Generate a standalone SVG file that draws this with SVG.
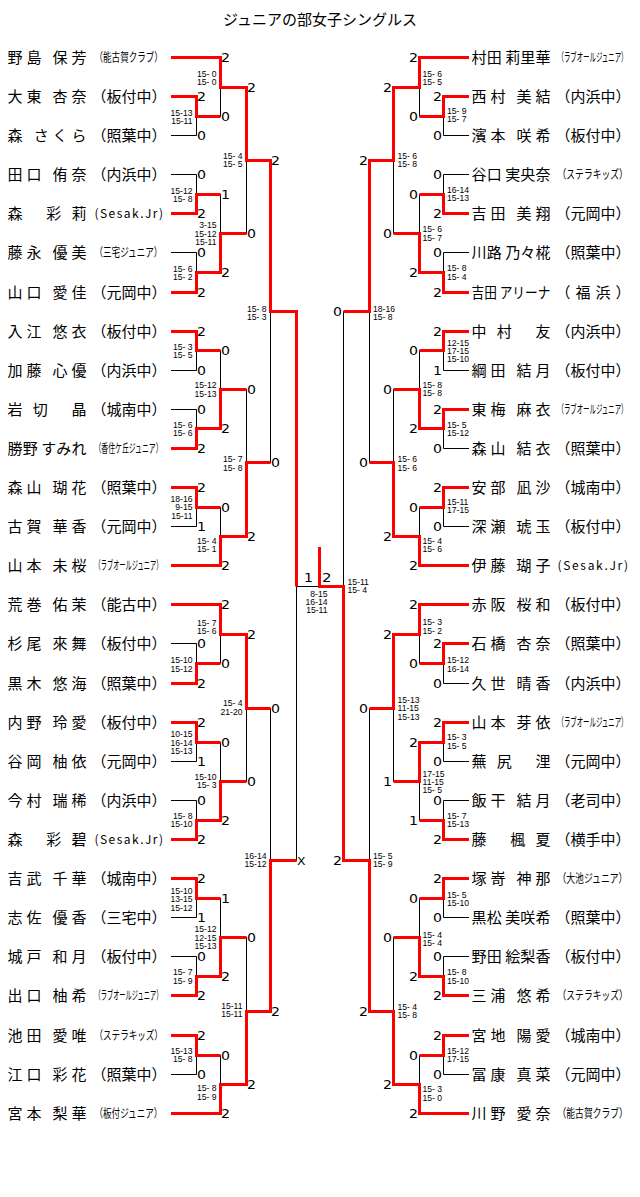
<svg xmlns="http://www.w3.org/2000/svg" width="640" height="1197" viewBox="0 0 640 1197">
<style>
.nm{font-family:"Noto Sans CJK JP","Noto Sans CJK SC",sans-serif;font-size:15px;fill:#000}
.cs{font-family:"Noto Sans CJK JP","Noto Sans CJK SC",sans-serif;font-size:12px;fill:#000}
.s{font-family:"Liberation Sans",Arial,sans-serif;font-size:8.6px;fill:#000}
.e{text-anchor:end}
.d{font-family:"DejaVu Sans",sans-serif;font-size:12px;fill:#000}
.k{stroke:#000;stroke-width:1;fill:none}
.r{stroke:#f00;stroke-width:3;fill:none;stroke-linejoin:miter}
</style>
<rect width="640" height="1197" fill="#fff"/>
<text id="title" class="nm" x="320" y="25" text-anchor="middle">ジュニアの部女子シングルス</text>
<defs>
<path id="bk" d="M171 57.5H220.5M171 96.5H196.5M171 135.5H196.5M171 174.5H196.5M171 213.5H196.5M171 252.5H196.5M171 292.5H196.5M171 331.5H196.5M171 370.5H196.5M171 409.5H196.5M171 448.5H196.5M171 487.5H196.5M171 526.5H196.5M171 565.5H220.5M171 604.5H220.5M171 643.5H196.5M171 683.5H196.5M171 722.5H196.5M171 761.5H196.5M171 800.5H196.5M171 839.5H196.5M171 878.5H196.5M171 917.5H196.5M171 956.5H196.5M171 995.5H196.5M171 1035.5H196.5M171 1074.5H196.5M171 1113.5H220.5M196.5 96.5V135.5M196.5 116.5H220.5M196.5 174.5V213.5M196.5 194.5H220.5M196.5 252.5V292.5M196.5 272.5H220.5M196.5 331.5V370.5M196.5 350.5H220.5M196.5 409.5V448.5M196.5 428.5H220.5M196.5 487.5V526.5M196.5 507.5H220.5M196.5 643.5V683.5M196.5 663.5H220.5M196.5 722.5V761.5M196.5 742.5H220.5M196.5 800.5V839.5M196.5 820.5H220.5M196.5 878.5V917.5M196.5 898.5H220.5M196.5 956.5V995.5M196.5 976.5H220.5M196.5 1035.5V1074.5M196.5 1055.5H220.5M220.5 57.5V116.5M220.5 87.5H246.5M220.5 194.5V272.5M220.5 233.5H246.5M220.5 350.5V428.5M220.5 389.5H246.5M220.5 507.5V565.5M220.5 536.5H246.5M220.5 604.5V663.5M220.5 634.5H246.5M220.5 742.5V820.5M220.5 781.5H246.5M220.5 898.5V976.5M220.5 937.5H246.5M220.5 1055.5V1113.5M220.5 1084.5H246.5M246.5 87.5V233.5M246.5 160.5H270.5M246.5 389.5V536.5M246.5 462.5H270.5M246.5 634.5V781.5M246.5 708.5H270.5M246.5 937.5V1084.5M246.5 1011.5H270.5M270.5 160.5V462.5M270.5 311.5H296.5M270.5 708.5V1011.5M270.5 860.5H296.5M296.5 311.5V860.5M296.5 586.5H319.5"/>
</defs>
<g id="connectors">
<use href="#bk" class="k"/>
<g transform="matrix(-1 0 0 1 640 0)"><use href="#bk" class="k"/></g>
<g id="winL" class="r">
<path d="M171 57.5H220.5V87.5H246.5V160.5H270.5V311.5H296.5V586.5"/>
<path d="M171 96.5H196.5V116.5H220.5"/>
<path d="M171 213.5H196.5V194.5H220.5"/>
<path d="M171 292.5H196.5V272.5H220.5V233.5H246.5"/>
<path d="M171 331.5H196.5V350.5H220.5"/>
<path d="M171 448.5H196.5V428.5H220.5V389.5H246.5"/>
<path d="M171 487.5H196.5V507.5H220.5"/>
<path d="M171 565.5H220.5V536.5H246.5V462.5H270.5"/>
<path d="M171 604.5H220.5V634.5H246.5V708.5H270.5"/>
<path d="M171 683.5H196.5V663.5H220.5"/>
<path d="M171 722.5H196.5V742.5H220.5"/>
<path d="M171 839.5H196.5V820.5H220.5V781.5H246.5"/>
<path d="M171 878.5H196.5V898.5H220.5"/>
<path d="M171 995.5H196.5V976.5H220.5V937.5H246.5"/>
<path d="M171 1035.5H196.5V1055.5H220.5"/>
<path d="M171 1113.5H220.5V1084.5H246.5V1011.5H270.5V860.5H296.5"/>
</g>
<g id="winR" class="r" transform="matrix(-1 0 0 1 640 0)">
<path d="M171 57.5H220.5V87.5H246.5V160.5H270.5V311.5H296.5"/>
<path d="M171 96.5H196.5V116.5H220.5"/>
<path d="M171 213.5H196.5V194.5H220.5"/>
<path d="M171 292.5H196.5V272.5H220.5V233.5H246.5"/>
<path d="M171 331.5H196.5V350.5H220.5"/>
<path d="M171 409.5H196.5V428.5H220.5V389.5H246.5"/>
<path d="M171 487.5H196.5V507.5H220.5"/>
<path d="M171 565.5H220.5V536.5H246.5V462.5H270.5"/>
<path d="M171 604.5H220.5V634.5H246.5V708.5H270.5"/>
<path d="M171 643.5H196.5V663.5H220.5"/>
<path d="M171 722.5H196.5V742.5H220.5V781.5H246.5"/>
<path d="M171 839.5H196.5V820.5H220.5"/>
<path d="M171 878.5H196.5V898.5H220.5"/>
<path d="M171 995.5H196.5V976.5H220.5V937.5H246.5"/>
<path d="M171 1035.5H196.5V1055.5H220.5"/>
<path d="M171 1113.5H220.5V1084.5H246.5V1011.5H270.5V860.5H296.5V586.5H320.5"/>
</g>
<path id="champion" class="r" d="M319.5 547V588"/>
</g>
<g id="results">
<g id="digitsL">
<text class="d" x="197" y="101" textLength="9" lengthAdjust="spacingAndGlyphs">2</text>
<text class="d" x="197" y="140" textLength="9" lengthAdjust="spacingAndGlyphs">0</text>
<text class="d" x="197" y="179" textLength="9" lengthAdjust="spacingAndGlyphs">0</text>
<text class="d" x="197" y="218" textLength="9" lengthAdjust="spacingAndGlyphs">2</text>
<text class="d" x="197" y="257" textLength="9" lengthAdjust="spacingAndGlyphs">0</text>
<text class="d" x="197" y="297" textLength="9" lengthAdjust="spacingAndGlyphs">2</text>
<text class="d" x="197" y="336" textLength="9" lengthAdjust="spacingAndGlyphs">2</text>
<text class="d" x="197" y="375" textLength="9" lengthAdjust="spacingAndGlyphs">0</text>
<text class="d" x="197" y="414" textLength="9" lengthAdjust="spacingAndGlyphs">0</text>
<text class="d" x="197" y="453" textLength="9" lengthAdjust="spacingAndGlyphs">2</text>
<text class="d" x="197" y="492" textLength="9" lengthAdjust="spacingAndGlyphs">2</text>
<text class="d" x="197" y="531" textLength="9" lengthAdjust="spacingAndGlyphs">1</text>
<text class="d" x="197" y="648" textLength="9" lengthAdjust="spacingAndGlyphs">0</text>
<text class="d" x="197" y="688" textLength="9" lengthAdjust="spacingAndGlyphs">2</text>
<text class="d" x="197" y="727" textLength="9" lengthAdjust="spacingAndGlyphs">2</text>
<text class="d" x="197" y="766" textLength="9" lengthAdjust="spacingAndGlyphs">1</text>
<text class="d" x="197" y="805" textLength="9" lengthAdjust="spacingAndGlyphs">0</text>
<text class="d" x="197" y="844" textLength="9" lengthAdjust="spacingAndGlyphs">2</text>
<text class="d" x="197" y="883" textLength="9" lengthAdjust="spacingAndGlyphs">2</text>
<text class="d" x="197" y="922" textLength="9" lengthAdjust="spacingAndGlyphs">1</text>
<text class="d" x="197" y="961" textLength="9" lengthAdjust="spacingAndGlyphs">0</text>
<text class="d" x="197" y="1000" textLength="9" lengthAdjust="spacingAndGlyphs">2</text>
<text class="d" x="197" y="1040" textLength="9" lengthAdjust="spacingAndGlyphs">2</text>
<text class="d" x="197" y="1079" textLength="9" lengthAdjust="spacingAndGlyphs">0</text>
<text class="d" x="221" y="62" textLength="9" lengthAdjust="spacingAndGlyphs">2</text>
<text class="d" x="221" y="121" textLength="9" lengthAdjust="spacingAndGlyphs">0</text>
<text class="d" x="221" y="199" textLength="9" lengthAdjust="spacingAndGlyphs">1</text>
<text class="d" x="221" y="277" textLength="9" lengthAdjust="spacingAndGlyphs">2</text>
<text class="d" x="221" y="355" textLength="9" lengthAdjust="spacingAndGlyphs">0</text>
<text class="d" x="221" y="433" textLength="9" lengthAdjust="spacingAndGlyphs">2</text>
<text class="d" x="221" y="512" textLength="9" lengthAdjust="spacingAndGlyphs">0</text>
<text class="d" x="221" y="570" textLength="9" lengthAdjust="spacingAndGlyphs">2</text>
<text class="d" x="221" y="609" textLength="9" lengthAdjust="spacingAndGlyphs">2</text>
<text class="d" x="221" y="668" textLength="9" lengthAdjust="spacingAndGlyphs">0</text>
<text class="d" x="221" y="747" textLength="9" lengthAdjust="spacingAndGlyphs">0</text>
<text class="d" x="221" y="825" textLength="9" lengthAdjust="spacingAndGlyphs">2</text>
<text class="d" x="221" y="903" textLength="9" lengthAdjust="spacingAndGlyphs">1</text>
<text class="d" x="221" y="981" textLength="9" lengthAdjust="spacingAndGlyphs">2</text>
<text class="d" x="221" y="1060" textLength="9" lengthAdjust="spacingAndGlyphs">0</text>
<text class="d" x="221" y="1118" textLength="9" lengthAdjust="spacingAndGlyphs">2</text>
<text class="d" x="247" y="92" textLength="9" lengthAdjust="spacingAndGlyphs">2</text>
<text class="d" x="247" y="238" textLength="9" lengthAdjust="spacingAndGlyphs">0</text>
<text class="d" x="247" y="394" textLength="9" lengthAdjust="spacingAndGlyphs">0</text>
<text class="d" x="247" y="541" textLength="9" lengthAdjust="spacingAndGlyphs">2</text>
<text class="d" x="247" y="639" textLength="9" lengthAdjust="spacingAndGlyphs">2</text>
<text class="d" x="247" y="786" textLength="9" lengthAdjust="spacingAndGlyphs">0</text>
<text class="d" x="247" y="942" textLength="9" lengthAdjust="spacingAndGlyphs">0</text>
<text class="d" x="247" y="1089" textLength="9" lengthAdjust="spacingAndGlyphs">2</text>
<text class="d" x="271" y="165" textLength="9" lengthAdjust="spacingAndGlyphs">2</text>
<text class="d" x="271" y="467" textLength="9" lengthAdjust="spacingAndGlyphs">0</text>
<text class="d" x="271" y="713" textLength="9" lengthAdjust="spacingAndGlyphs">0</text>
<text class="d" x="271" y="1016" textLength="9" lengthAdjust="spacingAndGlyphs">2</text>
<text class="d" x="297" y="864.5" style="font-size:11px" textLength="8.5" lengthAdjust="spacingAndGlyphs">X</text>
</g>
<g id="digitsR">
<text class="d" x="433" y="101" textLength="9" lengthAdjust="spacingAndGlyphs">2</text>
<text class="d" x="433" y="140" textLength="9" lengthAdjust="spacingAndGlyphs">0</text>
<text class="d" x="433" y="179" textLength="9" lengthAdjust="spacingAndGlyphs">0</text>
<text class="d" x="433" y="218" textLength="9" lengthAdjust="spacingAndGlyphs">2</text>
<text class="d" x="433" y="257" textLength="9" lengthAdjust="spacingAndGlyphs">0</text>
<text class="d" x="433" y="297" textLength="9" lengthAdjust="spacingAndGlyphs">2</text>
<text class="d" x="433" y="336" textLength="9" lengthAdjust="spacingAndGlyphs">2</text>
<text class="d" x="433" y="375" textLength="9" lengthAdjust="spacingAndGlyphs">1</text>
<text class="d" x="433" y="414" textLength="9" lengthAdjust="spacingAndGlyphs">2</text>
<text class="d" x="433" y="453" textLength="9" lengthAdjust="spacingAndGlyphs">0</text>
<text class="d" x="433" y="492" textLength="9" lengthAdjust="spacingAndGlyphs">2</text>
<text class="d" x="433" y="531" textLength="9" lengthAdjust="spacingAndGlyphs">0</text>
<text class="d" x="433" y="648" textLength="9" lengthAdjust="spacingAndGlyphs">2</text>
<text class="d" x="433" y="688" textLength="9" lengthAdjust="spacingAndGlyphs">0</text>
<text class="d" x="433" y="727" textLength="9" lengthAdjust="spacingAndGlyphs">2</text>
<text class="d" x="433" y="766" textLength="9" lengthAdjust="spacingAndGlyphs">0</text>
<text class="d" x="433" y="805" textLength="9" lengthAdjust="spacingAndGlyphs">0</text>
<text class="d" x="433" y="844" textLength="9" lengthAdjust="spacingAndGlyphs">2</text>
<text class="d" x="433" y="883" textLength="9" lengthAdjust="spacingAndGlyphs">2</text>
<text class="d" x="433" y="922" textLength="9" lengthAdjust="spacingAndGlyphs">0</text>
<text class="d" x="433" y="961" textLength="9" lengthAdjust="spacingAndGlyphs">0</text>
<text class="d" x="433" y="1000" textLength="9" lengthAdjust="spacingAndGlyphs">2</text>
<text class="d" x="433" y="1040" textLength="9" lengthAdjust="spacingAndGlyphs">2</text>
<text class="d" x="433" y="1079" textLength="9" lengthAdjust="spacingAndGlyphs">0</text>
<text class="d" x="409" y="62" textLength="9" lengthAdjust="spacingAndGlyphs">2</text>
<text class="d" x="409" y="121" textLength="9" lengthAdjust="spacingAndGlyphs">0</text>
<text class="d" x="409" y="199" textLength="9" lengthAdjust="spacingAndGlyphs">0</text>
<text class="d" x="409" y="277" textLength="9" lengthAdjust="spacingAndGlyphs">2</text>
<text class="d" x="409" y="355" textLength="9" lengthAdjust="spacingAndGlyphs">0</text>
<text class="d" x="409" y="433" textLength="9" lengthAdjust="spacingAndGlyphs">2</text>
<text class="d" x="409" y="512" textLength="9" lengthAdjust="spacingAndGlyphs">0</text>
<text class="d" x="409" y="570" textLength="9" lengthAdjust="spacingAndGlyphs">2</text>
<text class="d" x="409" y="609" textLength="9" lengthAdjust="spacingAndGlyphs">2</text>
<text class="d" x="409" y="668" textLength="9" lengthAdjust="spacingAndGlyphs">0</text>
<text class="d" x="409" y="747" textLength="9" lengthAdjust="spacingAndGlyphs">2</text>
<text class="d" x="409" y="825" textLength="9" lengthAdjust="spacingAndGlyphs">1</text>
<text class="d" x="409" y="903" textLength="9" lengthAdjust="spacingAndGlyphs">0</text>
<text class="d" x="409" y="981" textLength="9" lengthAdjust="spacingAndGlyphs">2</text>
<text class="d" x="409" y="1060" textLength="9" lengthAdjust="spacingAndGlyphs">0</text>
<text class="d" x="409" y="1118" textLength="9" lengthAdjust="spacingAndGlyphs">2</text>
<text class="d" x="383" y="92" textLength="9" lengthAdjust="spacingAndGlyphs">2</text>
<text class="d" x="383" y="238" textLength="9" lengthAdjust="spacingAndGlyphs">0</text>
<text class="d" x="383" y="394" textLength="9" lengthAdjust="spacingAndGlyphs">0</text>
<text class="d" x="383" y="541" textLength="9" lengthAdjust="spacingAndGlyphs">2</text>
<text class="d" x="383" y="639" textLength="9" lengthAdjust="spacingAndGlyphs">2</text>
<text class="d" x="383" y="786" textLength="9" lengthAdjust="spacingAndGlyphs">1</text>
<text class="d" x="383" y="942" textLength="9" lengthAdjust="spacingAndGlyphs">0</text>
<text class="d" x="383" y="1089" textLength="9" lengthAdjust="spacingAndGlyphs">2</text>
<text class="d" x="359" y="165" textLength="9" lengthAdjust="spacingAndGlyphs">2</text>
<text class="d" x="359" y="467" textLength="9" lengthAdjust="spacingAndGlyphs">0</text>
<text class="d" x="359" y="713" textLength="9" lengthAdjust="spacingAndGlyphs">0</text>
<text class="d" x="359" y="1016" textLength="9" lengthAdjust="spacingAndGlyphs">2</text>
<text class="d" x="333" y="316" textLength="9" lengthAdjust="spacingAndGlyphs">0</text>
<text class="d" x="333" y="865" textLength="9" lengthAdjust="spacingAndGlyphs">2</text>
<text class="d" x="304" y="582" style="font-size:13px" textLength="9" lengthAdjust="spacingAndGlyphs">1</text>
<text class="d" x="322" y="582" style="font-size:13px" textLength="9.5" lengthAdjust="spacingAndGlyphs">2</text>
</g>
<g id="gameScoresL" class="s e">
<text><tspan x="192.5" y="115.5">15-13</tspan><tspan x="192.5" y="123.5">15-11</tspan></text>
<text><tspan x="192.5" y="193.5">15-12</tspan><tspan x="192.5" y="201.5">15- 8</tspan></text>
<text><tspan x="192.5" y="271.5">15- 6</tspan><tspan x="192.5" y="279.5">15- 2</tspan></text>
<text><tspan x="216.5" y="77">15- 0</tspan><tspan x="216.5" y="85">15- 0</tspan></text>
<text><tspan x="216.5" y="228">3-15</tspan><tspan x="216.5" y="236.5">15-12</tspan><tspan x="216.5" y="245">15-11</tspan></text>
<text><tspan x="242.5" y="158.5">15- 4</tspan><tspan x="242.5" y="167">15- 5</tspan></text>
<text><tspan x="266.5" y="311.5">15- 8</tspan><tspan x="266.5" y="319.5">15- 3</tspan></text>
<text><tspan x="192.5" y="349.5">15- 3</tspan><tspan x="192.5" y="357.5">15- 5</tspan></text>
<text><tspan x="192.5" y="427.5">15- 6</tspan><tspan x="192.5" y="436">15- 6</tspan></text>
<text><tspan x="192.5" y="501.5">18-16</tspan><tspan x="192.5" y="510">9-15</tspan><tspan x="192.5" y="518.5">15-11</tspan></text>
<text><tspan x="216.5" y="388">15-12</tspan><tspan x="216.5" y="396.5">15-13</tspan></text>
<text><tspan x="216.5" y="543.5">15- 4</tspan><tspan x="216.5" y="552">15- 1</tspan></text>
<text><tspan x="242.5" y="462">15- 7</tspan><tspan x="242.5" y="470.5">15- 8</tspan></text>
<text><tspan x="192.5" y="663">15-10</tspan><tspan x="192.5" y="671.5">15-12</tspan></text>
<text><tspan x="192.5" y="737">10-15</tspan><tspan x="192.5" y="745.5">16-14</tspan><tspan x="192.5" y="753.5">15-13</tspan></text>
<text><tspan x="192.5" y="818.5">15- 8</tspan><tspan x="192.5" y="827">15-10</tspan></text>
<text><tspan x="216.5" y="625.5">15- 7</tspan><tspan x="216.5" y="633.5">15- 6</tspan></text>
<text><tspan x="216.5" y="779.5">15-10</tspan><tspan x="216.5" y="788">15- 3</tspan></text>
<text><tspan x="242.5" y="706">15- 4</tspan><tspan x="242.5" y="714.5">21-20</tspan></text>
<text><tspan x="192.5" y="893.5">15-10</tspan><tspan x="192.5" y="902">13-15</tspan><tspan x="192.5" y="910.5">15-12</tspan></text>
<text><tspan x="192.5" y="975">15- 7</tspan><tspan x="192.5" y="983.5">15- 9</tspan></text>
<text><tspan x="192.5" y="1053.5">15-13</tspan><tspan x="192.5" y="1062">15- 8</tspan></text>
<text><tspan x="216.5" y="932">15-12</tspan><tspan x="216.5" y="940.5">12-15</tspan><tspan x="216.5" y="948.5">15-13</tspan></text>
<text><tspan x="216.5" y="1091">15- 8</tspan><tspan x="216.5" y="1099.5">15- 9</tspan></text>
<text><tspan x="242.5" y="1008.5">15-11</tspan><tspan x="242.5" y="1017">15-11</tspan></text>
<text><tspan x="266.5" y="858.5">16-14</tspan><tspan x="266.5" y="866.5">15-12</tspan></text>
<text><tspan x="327.5" y="596.5">8-15</tspan><tspan x="327.5" y="604.5">16-14</tspan><tspan x="327.5" y="612.5">15-11</tspan></text>
</g>
<g id="gameScoresR" class="s">
<text><tspan x="447" y="113.5">15- 9</tspan><tspan x="447" y="122">15- 7</tspan></text>
<text><tspan x="447" y="192.5">16-14</tspan><tspan x="447" y="201">15-13</tspan></text>
<text><tspan x="447" y="271">15- 8</tspan><tspan x="447" y="279.5">15- 4</tspan></text>
<text><tspan x="422.5" y="76.5">15- 6</tspan><tspan x="422.5" y="84.5">15- 5</tspan></text>
<text><tspan x="422.5" y="232">15- 6</tspan><tspan x="422.5" y="240.5">15- 7</tspan></text>
<text><tspan x="397.5" y="158.5">15- 6</tspan><tspan x="397.5" y="167">15- 8</tspan></text>
<text><tspan x="373" y="311.5">18-16</tspan><tspan x="373" y="319.5">15- 8</tspan></text>
<text><tspan x="447" y="345.5">12-15</tspan><tspan x="447" y="353.5">17-15</tspan><tspan x="447" y="362">15-10</tspan></text>
<text><tspan x="447" y="428">15- 5</tspan><tspan x="447" y="436">15-12</tspan></text>
<text><tspan x="447" y="504.5">15-11</tspan><tspan x="447" y="513">17-15</tspan></text>
<text><tspan x="422.5" y="388">15- 8</tspan><tspan x="422.5" y="396">15- 8</tspan></text>
<text><tspan x="422.5" y="543.5">15- 4</tspan><tspan x="422.5" y="552">15- 6</tspan></text>
<text><tspan x="397.5" y="462">15- 6</tspan><tspan x="397.5" y="470.5">15- 6</tspan></text>
<text><tspan x="347.5" y="584.5">15-11</tspan><tspan x="347.5" y="593">15- 4</tspan></text>
<text><tspan x="447" y="663">15-12</tspan><tspan x="447" y="671.5">16-14</tspan></text>
<text><tspan x="447" y="740">15- 3</tspan><tspan x="447" y="748.5">15- 5</tspan></text>
<text><tspan x="447" y="818.5">15- 7</tspan><tspan x="447" y="827">15-13</tspan></text>
<text><tspan x="422.5" y="625">15- 3</tspan><tspan x="422.5" y="633.5">15- 2</tspan></text>
<text><tspan x="422.5" y="776.5">17-15</tspan><tspan x="422.5" y="784.5">11-15</tspan><tspan x="422.5" y="792.5">15- 5</tspan></text>
<text><tspan x="397.5" y="702.5">15-13</tspan><tspan x="397.5" y="711">11-15</tspan><tspan x="397.5" y="719.5">15-13</tspan></text>
<text><tspan x="373" y="858.5">15- 5</tspan><tspan x="373" y="866.5">15- 9</tspan></text>
<text><tspan x="447" y="897.5">15- 5</tspan><tspan x="447" y="905.5">15-10</tspan></text>
<text><tspan x="447" y="975">15- 8</tspan><tspan x="447" y="983.5">15-10</tspan></text>
<text><tspan x="447" y="1053.5">15-12</tspan><tspan x="447" y="1062">17-15</tspan></text>
<text><tspan x="422.5" y="937.5">15- 4</tspan><tspan x="422.5" y="945.5">15- 4</tspan></text>
<text><tspan x="422.5" y="1092">15- 3</tspan><tspan x="422.5" y="1100.5">15- 0</tspan></text>
<text><tspan x="397.5" y="1009.5">15- 4</tspan><tspan x="397.5" y="1017.5">15- 8</tspan></text>
</g>
</g>
<g id="playersLeft">
<g id="pL01"><text class="nm" x="7.5" y="63" textLength="79" lengthAdjust="spacing">野島 保芳</text><text class="cs" x="94.5" y="62" transform="matrix(0.7135 0 0 1 27.07 0)">（能古賀クラブ）</text></g>
<g id="pL02"><text class="nm" x="7.5" y="102" textLength="79" lengthAdjust="spacing">大東 杏奈</text><text class="nm" x="91.5" y="102">（板付中）</text></g>
<g id="pL03"><text class="nm" x="7.5" y="141" textLength="79" lengthAdjust="spacing">森 さくら</text><text class="nm" x="91.5" y="141">（照葉中）</text></g>
<g id="pL04"><text class="nm" x="7.5" y="180" textLength="79" lengthAdjust="spacing">田口 侑奈</text><text class="nm" x="91.5" y="180">（内浜中）</text></g>
<g id="pL05"><text class="nm" x="7.5" y="219" textLength="79" lengthAdjust="spacing">森 彩莉</text><text class="cs" x="94.5" y="218" textLength="68.5" lengthAdjust="spacing">(Sesak.Jr)</text></g>
<g id="pL06"><text class="nm" x="7.5" y="258" textLength="79" lengthAdjust="spacing">藤永 優美</text><text class="cs" x="94.5" y="257" transform="matrix(0.7135 0 0 1 27.07 0)">（三宅ジュニア）</text></g>
<g id="pL07"><text class="nm" x="7.5" y="298" textLength="79" lengthAdjust="spacing">山口 愛佳</text><text class="nm" x="91.5" y="298">（元岡中）</text></g>
<g id="pL08"><text class="nm" x="7.5" y="337" textLength="79" lengthAdjust="spacing">入江 悠衣</text><text class="nm" x="91.5" y="337">（板付中）</text></g>
<g id="pL09"><text class="nm" x="7.5" y="376" textLength="79" lengthAdjust="spacing">加藤 心優</text><text class="nm" x="91.5" y="376">（内浜中）</text></g>
<g id="pL10"><text class="nm" x="7.5" y="415" textLength="79" lengthAdjust="spacing">岩切 晶</text><text class="nm" x="91.5" y="415">（城南中）</text></g>
<g id="pL11"><text class="nm" x="7.5" y="454" textLength="79" lengthAdjust="spacing">勝野 すみれ</text><text class="cs" x="94.5" y="453" transform="matrix(0.571 0 0 1 40.54 0)">（香住ケ丘ジュニア）</text></g>
<g id="pL12"><text class="nm" x="7.5" y="493" textLength="79" lengthAdjust="spacing">森山 瑚花</text><text class="nm" x="91.5" y="493">（照葉中）</text></g>
<g id="pL13"><text class="nm" x="7.5" y="532" textLength="79" lengthAdjust="spacing">古賀 華香</text><text class="nm" x="91.5" y="532">（元岡中）</text></g>
<g id="pL14"><text class="nm" x="7.5" y="571" textLength="79" lengthAdjust="spacing">山本 未桜</text><text class="cs" x="94.5" y="570" transform="matrix(0.519 0 0 1 45.45 0)">（ラブオールジュニア）</text></g>
<g id="pL15"><text class="nm" x="7.5" y="610" textLength="79" lengthAdjust="spacing">荒巻 佑茉</text><text class="nm" x="91.5" y="610">（能古中）</text></g>
<g id="pL16"><text class="nm" x="7.5" y="649" textLength="79" lengthAdjust="spacing">杉尾 來舞</text><text class="nm" x="91.5" y="649">（板付中）</text></g>
<g id="pL17"><text class="nm" x="7.5" y="689" textLength="79" lengthAdjust="spacing">黒木 悠海</text><text class="nm" x="91.5" y="689">（照葉中）</text></g>
<g id="pL18"><text class="nm" x="7.5" y="728" textLength="79" lengthAdjust="spacing">内野 玲愛</text><text class="nm" x="91.5" y="728">（板付中）</text></g>
<g id="pL19"><text class="nm" x="7.5" y="767" textLength="79" lengthAdjust="spacing">谷岡 柚依</text><text class="nm" x="91.5" y="767">（元岡中）</text></g>
<g id="pL20"><text class="nm" x="7.5" y="806" textLength="79" lengthAdjust="spacing">今村 瑞稀</text><text class="nm" x="91.5" y="806">（内浜中）</text></g>
<g id="pL21"><text class="nm" x="7.5" y="845" textLength="79" lengthAdjust="spacing">森 彩碧</text><text class="cs" x="94.5" y="844" textLength="68.5" lengthAdjust="spacing">(Sesak.Jr)</text></g>
<g id="pL22"><text class="nm" x="7.5" y="884" textLength="79" lengthAdjust="spacing">吉武 千華</text><text class="nm" x="91.5" y="884">（城南中）</text></g>
<g id="pL23"><text class="nm" x="7.5" y="923" textLength="79" lengthAdjust="spacing">志佐 優香</text><text class="nm" x="91.5" y="923">（三宅中）</text></g>
<g id="pL24"><text class="nm" x="7.5" y="962" textLength="79" lengthAdjust="spacing">城戸 和月</text><text class="nm" x="91.5" y="962">（板付中）</text></g>
<g id="pL25"><text class="nm" x="7.5" y="1001" textLength="79" lengthAdjust="spacing">出口 柚希</text><text class="cs" x="94.5" y="1000" transform="matrix(0.519 0 0 1 45.45 0)">（ラブオールジュニア）</text></g>
<g id="pL26"><text class="nm" x="7.5" y="1041" textLength="79" lengthAdjust="spacing">池田 愛唯</text><text class="cs" x="94.5" y="1040" transform="matrix(0.7135 0 0 1 27.07 0)">（ステラキッズ）</text></g>
<g id="pL27"><text class="nm" x="7.5" y="1080" textLength="79" lengthAdjust="spacing">江口 彩花</text><text class="nm" x="91.5" y="1080">（照葉中）</text></g>
<g id="pL28"><text class="nm" x="7.5" y="1119" textLength="79" lengthAdjust="spacing">宮本 梨華</text><text class="cs" x="94.5" y="1118" transform="matrix(0.7135 0 0 1 27.07 0)">（板付ジュニア）</text></g>
</g>
<g id="playersRight">
<g id="pR01"><text class="nm" x="471.5" y="63" textLength="79" lengthAdjust="spacing">村田 莉里華</text><text class="cs" x="557.5" y="62" transform="matrix(0.534 0 0 1 259.8 0)">（ラブオールジュニア）</text></g>
<g id="pR02"><text class="nm" x="471.5" y="102" textLength="79" lengthAdjust="spacing">西村 美結</text><text class="nm" x="555.5" y="102">（内浜中）</text></g>
<g id="pR03"><text class="nm" x="471.5" y="141" textLength="79" lengthAdjust="spacing">濱本 咲希</text><text class="nm" x="555.5" y="141">（板付中）</text></g>
<g id="pR04"><text class="nm" x="471.5" y="180" textLength="79" lengthAdjust="spacing">谷口 実央奈</text><text class="cs" x="557.5" y="179" transform="matrix(0.734 0 0 1 148.3 0)">（ステラキッズ）</text></g>
<g id="pR05"><text class="nm" x="471.5" y="219" textLength="79" lengthAdjust="spacing">吉田 美翔</text><text class="nm" x="555.5" y="219">（元岡中）</text></g>
<g id="pR06"><text class="nm" x="471.5" y="258" textLength="79" lengthAdjust="spacing">川路 乃々椛</text><text class="nm" x="555.5" y="258">（照葉中）</text></g>
<g id="pR07"><text class="nm" x="471.5" y="298" transform="matrix(0.846 0 0 1 72.6 0)">吉田 アリーナ</text><text class="nm" x="555.5" y="298" textLength="75" lengthAdjust="spacing">（ 福 浜 ）</text></g>
<g id="pR08"><text class="nm" x="471.5" y="337" textLength="79" lengthAdjust="spacing">中村 友</text><text class="nm" x="555.5" y="337">（内浜中）</text></g>
<g id="pR09"><text class="nm" x="471.5" y="376" textLength="79" lengthAdjust="spacing">綱田 結月</text><text class="nm" x="555.5" y="376">（板付中）</text></g>
<g id="pR10"><text class="nm" x="471.5" y="415" textLength="79" lengthAdjust="spacing">東梅 麻衣</text><text class="cs" x="557.5" y="414" transform="matrix(0.534 0 0 1 259.8 0)">（ラブオールジュニア）</text></g>
<g id="pR11"><text class="nm" x="471.5" y="454" textLength="79" lengthAdjust="spacing">森山 結衣</text><text class="nm" x="555.5" y="454">（照葉中）</text></g>
<g id="pR12"><text class="nm" x="471.5" y="493" textLength="79" lengthAdjust="spacing">安部 凪沙</text><text class="nm" x="555.5" y="493">（城南中）</text></g>
<g id="pR13"><text class="nm" x="471.5" y="532" textLength="79" lengthAdjust="spacing">深瀬 琥玉</text><text class="nm" x="555.5" y="532">（板付中）</text></g>
<g id="pR14"><text class="nm" x="471.5" y="571" textLength="79" lengthAdjust="spacing">伊藤 瑚子</text><text class="cs" x="557.5" y="570" textLength="70.5" lengthAdjust="spacing">(Sesak.Jr)</text></g>
<g id="pR15"><text class="nm" x="471.5" y="610" textLength="79" lengthAdjust="spacing">赤阪 桜和</text><text class="nm" x="555.5" y="610">（板付中）</text></g>
<g id="pR16"><text class="nm" x="471.5" y="649" textLength="79" lengthAdjust="spacing">石橋 杏奈</text><text class="nm" x="555.5" y="649">（照葉中）</text></g>
<g id="pR17"><text class="nm" x="471.5" y="689" textLength="79" lengthAdjust="spacing">久世 晴香</text><text class="nm" x="555.5" y="689">（内浜中）</text></g>
<g id="pR18"><text class="nm" x="471.5" y="728" textLength="79" lengthAdjust="spacing">山本 芽依</text><text class="cs" x="557.5" y="727" transform="matrix(0.534 0 0 1 259.8 0)">（ラブオールジュニア）</text></g>
<g id="pR19"><text class="nm" x="471.5" y="767" textLength="79" lengthAdjust="spacing">蕪尻 浬</text><text class="nm" x="555.5" y="767">（元岡中）</text></g>
<g id="pR20"><text class="nm" x="471.5" y="806" textLength="79" lengthAdjust="spacing">飯干 結月</text><text class="nm" x="555.5" y="806">（老司中）</text></g>
<g id="pR21"><text class="nm" x="471.5" y="845" textLength="79" lengthAdjust="spacing">藤 楓夏</text><text class="nm" x="555.5" y="845">（横手中）</text></g>
<g id="pR22"><text class="nm" x="471.5" y="884" textLength="79" lengthAdjust="spacing">塚嵜 神那</text><text class="cs" x="557.5" y="883" transform="matrix(0.734 0 0 1 148.3 0)">（大池ジュニア）</text></g>
<g id="pR23"><text class="nm" x="471.5" y="923" textLength="79" lengthAdjust="spacing">黒松 美咲希</text><text class="nm" x="555.5" y="923">（照葉中）</text></g>
<g id="pR24"><text class="nm" x="471.5" y="962" textLength="79" lengthAdjust="spacing">野田 絵梨香</text><text class="nm" x="555.5" y="962">（板付中）</text></g>
<g id="pR25"><text class="nm" x="471.5" y="1001" textLength="79" lengthAdjust="spacing">三浦 悠希</text><text class="cs" x="557.5" y="1000" transform="matrix(0.734 0 0 1 148.3 0)">（ステラキッズ）</text></g>
<g id="pR26"><text class="nm" x="471.5" y="1041" textLength="79" lengthAdjust="spacing">宮地 陽愛</text><text class="nm" x="555.5" y="1041">（城南中）</text></g>
<g id="pR27"><text class="nm" x="471.5" y="1080" textLength="79" lengthAdjust="spacing">冨康 真菜</text><text class="nm" x="555.5" y="1080">（元岡中）</text></g>
<g id="pR28"><text class="nm" x="471.5" y="1119" textLength="79" lengthAdjust="spacing">川野 愛奈</text><text class="cs" x="557.5" y="1118" transform="matrix(0.734 0 0 1 148.3 0)">（能古賀クラブ）</text></g>
</g>
</svg>
